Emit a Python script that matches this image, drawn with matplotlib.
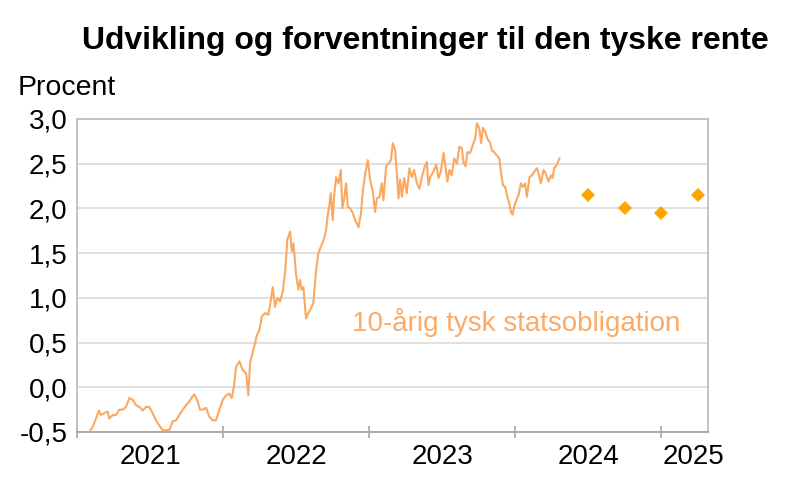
#!/usr/bin/env python3
import matplotlib
matplotlib.use("Agg")
import matplotlib.pyplot as plt
from matplotlib.ticker import FixedLocator, FixedFormatter, NullFormatter

# 10-årig tysk statsobligation (decimalår, procent)
bond_years = [
    2021.084, 2021.108, 2021.130, 2021.149, 2021.164, 2021.187, 2021.210, 2021.221,
    2021.245, 2021.267, 2021.290, 2021.313, 2021.336, 2021.358, 2021.382, 2021.404,
    2021.427, 2021.450, 2021.473, 2021.495, 2021.518, 2021.541, 2021.564, 2021.587,
    2021.610, 2021.632, 2021.655, 2021.678, 2021.701, 2021.724, 2021.747, 2021.769,
    2021.792, 2021.803, 2021.827, 2021.842, 2021.861, 2021.884, 2021.906, 2021.929,
    2021.952, 2021.975, 2021.998, 2022.021, 2022.043, 2022.060,
    2022.075, 2022.089, 2022.112, 2022.135, 2022.158, 2022.173, 2022.185, 2022.201,
    2022.219, 2022.231, 2022.249, 2022.265, 2022.288, 2022.310, 2022.322, 2022.340,
    2022.356, 2022.372, 2022.390, 2022.409, 2022.425, 2022.440, 2022.459, 2022.471,
    2022.482, 2022.500, 2022.516, 2022.527, 2022.539, 2022.550, 2022.568, 2022.584,
    2022.601, 2022.618, 2022.637, 2022.653, 2022.669, 2022.687, 2022.705,
    2022.714, 2022.728, 2022.737, 2022.751, 2022.760, 2022.774, 2022.790, 2022.806,
    2022.817, 2022.831, 2022.842, 2022.854, 2022.870, 2022.888, 2022.904, 2022.927,
    2022.943, 2022.957, 2022.973, 2022.991, 2023.007, 2023.025, 2023.041, 2023.053,
    2023.071, 2023.087, 2023.098, 2023.116, 2023.132, 2023.149, 2023.162, 2023.178,
    2023.190, 2023.201, 2023.212, 2023.224, 2023.240, 2023.258, 2023.276, 2023.292,
    2023.308, 2023.327, 2023.345, 2023.361, 2023.377, 2023.395, 2023.406,
    2023.418, 2023.440, 2023.459, 2023.475, 2023.491, 2023.509, 2023.521, 2023.536,
    2023.550, 2023.566, 2023.582, 2023.601, 2023.618, 2023.635, 2023.646, 2023.660,
    2023.673, 2023.692, 2023.710, 2023.726, 2023.738, 2023.753, 2023.767, 2023.779,
    2023.795, 2023.810, 2023.829, 2023.840, 2023.856, 2023.875, 2023.892, 2023.902,
    2023.916, 2023.932, 2023.943, 2023.959, 2023.971, 2023.982, 2023.993, 2024.007,
    2024.023, 2024.039, 2024.053, 2024.068, 2024.080, 2024.098, 2024.114, 2024.130,
    2024.149, 2024.160, 2024.176, 2024.194, 2024.210, 2024.228, 2024.245, 2024.255,
    2024.267, 2024.286, 2024.303,
]
bond_rate = [
    -0.50, -0.44, -0.35, -0.26, -0.31, -0.29, -0.27, -0.35,
    -0.31, -0.31, -0.25, -0.25, -0.22, -0.12, -0.14, -0.20,
    -0.22, -0.26, -0.22, -0.22, -0.29, -0.37, -0.43, -0.48,
    -0.48, -0.48, -0.38, -0.37, -0.31, -0.25, -0.20, -0.16,
    -0.10, -0.08, -0.16, -0.25, -0.25, -0.23, -0.33, -0.37,
    -0.37, -0.25, -0.14, -0.09, -0.07, -0.12,
    0.01, 0.23, 0.29, 0.19, 0.16, -0.09, 0.27, 0.38,
    0.49, 0.58, 0.64, 0.79, 0.83, 0.81, 0.92, 1.12,
    0.90, 1.00, 0.96, 1.07, 1.29, 1.65, 1.74, 1.52,
    1.61, 1.26, 1.09, 1.20, 1.09, 1.12, 0.77, 0.83,
    0.88, 0.94, 1.31, 1.50, 1.57, 1.64, 1.75,
    1.89, 2.04, 2.17, 1.87, 2.13, 2.35, 2.28, 2.43,
    2.00, 2.13, 2.28, 2.02, 2.00, 1.95, 1.87, 1.79,
    1.93, 2.19, 2.39, 2.54, 2.32, 2.19, 1.96, 2.11,
    2.13, 2.28, 2.09, 2.47, 2.50, 2.54, 2.73, 2.65,
    2.39, 2.11, 2.32, 2.13, 2.34, 2.17, 2.45, 2.35,
    2.43, 2.28, 2.22, 2.35, 2.45, 2.52, 2.26,
    2.35, 2.41, 2.49, 2.34, 2.41, 2.62, 2.49, 2.30,
    2.43, 2.37, 2.56, 2.50, 2.69, 2.67, 2.52, 2.47,
    2.63, 2.62, 2.71, 2.78, 2.95, 2.90, 2.73, 2.90,
    2.86, 2.78, 2.73, 2.65, 2.63, 2.59, 2.56, 2.41,
    2.26, 2.24, 2.15, 2.06, 1.96, 1.93, 2.02, 2.09,
    2.15, 2.28, 2.24, 2.28, 2.13, 2.35, 2.37, 2.41,
    2.45, 2.39, 2.28, 2.43, 2.39, 2.30, 2.37, 2.34,
    2.45, 2.49, 2.56,
]

# Forventninger (kvartaler)
forecast_years = [2024.5, 2024.75, 2025.0, 2025.25]
forecast_rate = [2.15, 2.00, 1.95, 2.15]

y_ticks = [-0.5, 0.0, 0.5, 1.0, 1.5, 2.0, 2.5, 3.0]
year_bounds = [2021, 2022, 2023, 2024, 2025]
year_label_pos = [2021.5, 2022.5, 2023.5, 2024.5, 2025.22]
year_labels = ["2021", "2022", "2023", "2024", "2025"]

plt.rcParams['font.family'] = ['Liberation Sans', 'DejaVu Sans']

fig = plt.figure(figsize=(8.01, 4.97), dpi=100)
ax = fig.add_axes([0.0961, 0.1308, 0.7878, 0.6298])

ax.plot(bond_years, bond_rate, color='#FBA861', linewidth=1.5, zorder=3)
ax.plot(forecast_years, forecast_rate, linestyle='none', marker='D',
        markersize=7.5, color='#FFA500', markeredgewidth=0, zorder=4)

ax.set_xlim(2021.0, 2025.32)
ax.set_ylim(-0.5, 3.0)

ax.yaxis.set_major_locator(FixedLocator(y_ticks))
ax.yaxis.set_major_formatter(FixedFormatter([f"{v:.1f}".replace('.', ',') for v in y_ticks]))
ax.tick_params(axis='y', length=0, pad=7, labelsize=20)

ax.xaxis.set_major_locator(FixedLocator(year_bounds))
ax.xaxis.set_major_formatter(NullFormatter())
ax.xaxis.set_minor_locator(FixedLocator(year_label_pos))
ax.xaxis.set_minor_formatter(FixedFormatter(year_labels))
ax.tick_params(axis='x', which='major', direction='inout', length=8,
               width=1.2, color='#A6A6A6')
ax.tick_params(axis='x', which='minor', length=0, pad=9, labelsize=20)

ax.grid(axis='y', color='#DDDDDD', linewidth=1.3)
ax.set_axisbelow(True)
for side in ['left', 'right', 'top', 'bottom']:
    ax.spines[side].set_color('#BFBFBF')
    ax.spines[side].set_linewidth(1.3)
ax.spines['bottom'].set_color('#A6A6A6')

ax.text(0.436, 0.35, "10-årig tysk statsobligation", transform=ax.transAxes,
        fontsize=20, color='#FDAA66', ha='left', va='center')

fig.text(0.531, 0.918, "Udvikling og forventninger til den tyske rente",
         fontsize=23, fontweight='bold', ha='center', va='center')
fig.text(0.022, 0.822, "Procent", fontsize=20.5, ha='left', va='center')

fig.savefig("out.png", dpi=100)
